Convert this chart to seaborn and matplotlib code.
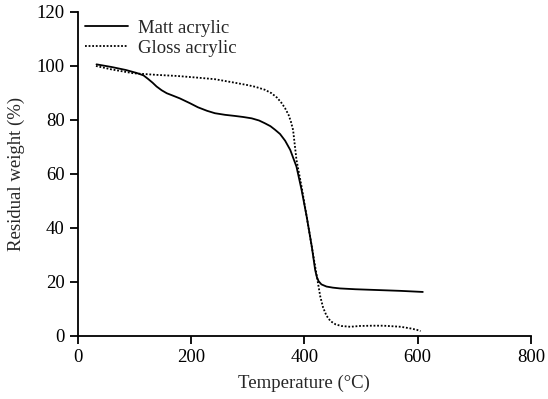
import matplotlib
matplotlib.use("Agg")
import matplotlib.pyplot as plt
import seaborn as sns
import pandas as pd

matt_temp = [33, 60, 85, 104, 116, 124, 132, 139, 148, 157, 168, 180, 198, 212, 228, 242, 260, 277, 292, 307, 320, 330, 340, 348, 357, 366,
             375, 386, 395, 404, 413, 419, 422, 425, 430, 439, 450, 463, 490, 530, 570, 609]
matt_weight = [100.6, 99.6, 98.5, 97.4, 96.5, 95.2, 93.8, 92.4, 91.0, 89.9, 89.0, 88.0, 86.2, 84.7, 83.4, 82.5, 81.9, 81.5, 81.1, 80.6, 79.8, 78.8, 77.7, 76.4, 74.8, 72.3,
               68.9, 62.7, 54.1, 44.2, 33.1, 24.4, 21.8, 20.3, 19.1, 18.3, 17.9, 17.6, 17.3, 17.0, 16.7, 16.3]

gloss_temp = [32, 60, 98, 139, 175, 210, 242, 277, 300, 313, 330, 342, 352, 360, 366, 372, 376, 380, 386, 395, 404, 413, 422, 428, 433, 439, 446, 455,
              465, 481, 498, 520, 539, 555, 570, 587, 598, 605]
gloss_weight = [100.0, 98.7, 97.3, 96.7, 96.3, 95.7, 95.1, 93.8, 92.9, 92.3, 91.2, 89.9, 88.2, 86.2, 84.3, 81.9, 79.5, 76.3, 65.2, 55.3, 44.2, 33.1, 22.0, 14.6, 10.5, 7.5, 5.5, 4.3,
                3.7, 3.4, 3.7, 3.8, 3.8, 3.6, 3.4, 2.8, 2.3, 1.8]

series_names = ["Matt acrylic", "Gloss acrylic"]
x_ticks = [0, 200, 400, 600, 800]
y_ticks = [0, 20, 40, 60, 80, 100, 120]

df = pd.concat([
    pd.DataFrame({"Temperature": matt_temp, "Weight": matt_weight, "Sample": series_names[0]}),
    pd.DataFrame({"Temperature": gloss_temp, "Weight": gloss_weight, "Sample": series_names[1]}),
])

sns.set_style("ticks")
plt.rcParams["font.family"] = ["Liberation Serif", "DejaVu Serif"]
plt.rcParams["font.size"] = 13.5

fig = plt.figure(figsize=(5.48, 3.99), dpi=100)
ax = fig.add_axes([0.142, 0.158, 0.827, 0.812])

sns.lineplot(data=df, x="Temperature", y="Weight", style="Sample",
             style_order=series_names, dashes={series_names[0]: "", series_names[1]: (1, 1)},
             color="black", linewidth=1.3, sort=False, estimator=None, ax=ax)

ax.set_xlim(0, 800)
ax.set_ylim(0, 120)
ax.set_xticks(x_ticks)
ax.set_yticks(y_ticks)
ax.set_xlabel("Temperature (°C)", fontsize=13.5, labelpad=6)
ax.set_ylabel("Residual weight (%)", fontsize=13.5, labelpad=8)
ax.tick_params(axis="both", direction="out", length=6, width=1.3, labelsize=13.5, colors="black")
for s in ["left", "bottom"]:
    ax.spines[s].set_linewidth(1.3)
    ax.spines[s].set_color("black")
sns.despine(ax=ax)

leg = ax.legend(loc="upper left", frameon=False, fontsize=13.5, handlelength=2.3,
                borderaxespad=0.0, labelspacing=0.15, handletextpad=0.5,
                bbox_to_anchor=(0.0, 1.0))

fig.savefig("out.png", dpi=100)
